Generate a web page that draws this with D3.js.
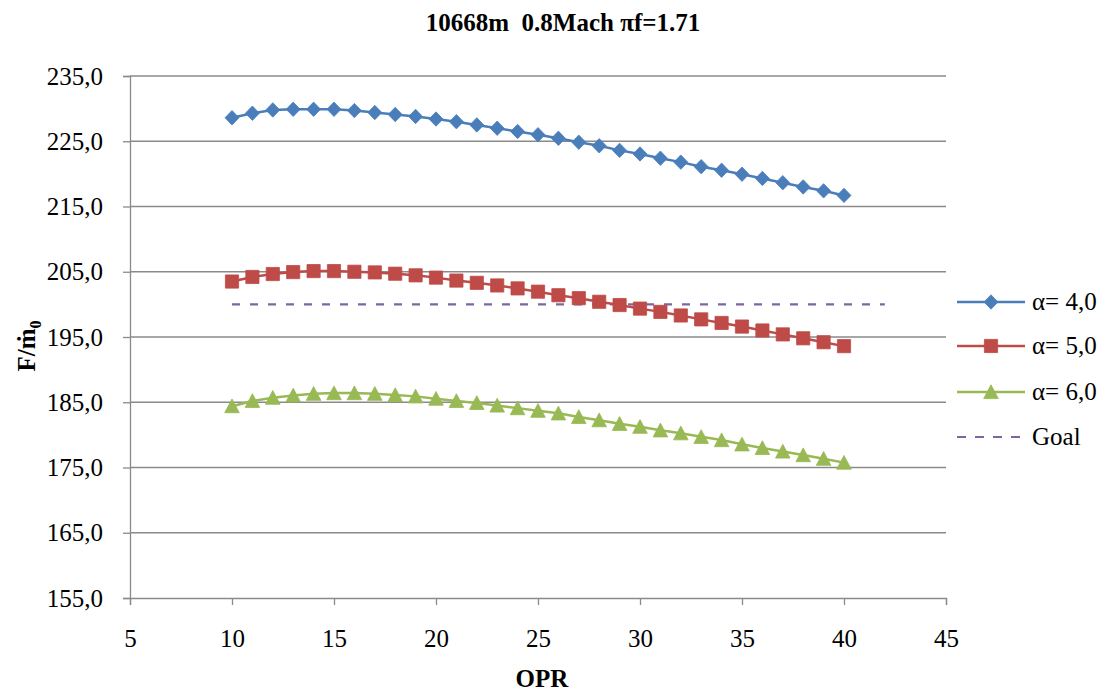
<!DOCTYPE html>
<html><head><meta charset="utf-8">
<script src="https://cdn.jsdelivr.net/npm/d3@7"></script>
<style>body{margin:0;background:#fff}svg{display:block}svg text{font-family:"Liberation Serif","Times New Roman",serif}</style>
</head><body>
<script>
const opr = d3.range(10, 41);
const alpha4 = [228.6,229.3,229.8,229.9,229.9,229.9,229.7,229.4,229.1,228.8,228.4,228.0,227.5,227.0,226.5,226.0,225.45,224.85,224.3,223.6,223.05,222.4,221.8,221.1,220.55,219.95,219.3,218.65,218.0,217.4,216.7];
const alpha5 = [203.5,204.2,204.65,204.95,205.1,205.1,205.0,204.9,204.7,204.45,204.1,203.65,203.3,202.9,202.45,201.95,201.4,200.95,200.4,199.9,199.35,198.85,198.3,197.7,197.15,196.6,196.0,195.4,194.8,194.2,193.6];
const alpha6 = [184.4,185.2,185.7,186.05,186.3,186.4,186.4,186.3,186.1,185.9,185.55,185.2,184.9,184.5,184.1,183.7,183.3,182.75,182.25,181.7,181.25,180.7,180.25,179.7,179.2,178.55,178.0,177.45,176.9,176.35,175.75];
const goalX = [10, 42];
const goalY = [200, 200];
const xTicks = [5,10,15,20,25,30,35,40,45];
const yTicks = [155,165,175,185,195,205,215,225,235];
const seriesNames = ["α= 4,0","α= 5,0","α= 6,0","Goal"];

const W = 1109, H = 693;
const FONT = '"Liberation Serif","Times New Roman",serif';
const svg = d3.select("body").append("svg").attr("width", W).attr("height", H);
const x = d3.scaleLinear().domain([5,45]).range([130,946]);
const y = d3.scaleLinear().domain([155,235]).range([598,76]);

// gridlines
svg.append("g").selectAll("line").data(yTicks.slice(1)).join("line")
  .attr("x1", x(5)).attr("x2", x(45)).attr("y1", d=>y(d)).attr("y2", d=>y(d))
  .attr("stroke", "#8a8a8a").attr("stroke-width", 1.3);

const fmt = d => d.toFixed(1).replace(".", ",");
const yAxis = svg.append("g").attr("transform", `translate(${x(5)},0)`)
  .call(d3.axisLeft(y).tickValues(yTicks).tickFormat(fmt).tickSize(7).tickPadding(20));
const xAxis = svg.append("g").attr("transform", `translate(0,${y(155)})`)
  .call(d3.axisBottom(x).tickValues(xTicks).tickSize(7).tickPadding(24));
[yAxis, xAxis].forEach(g => {
  g.attr("font-family", FONT).attr("font-size", 25);
  g.selectAll("path,line").attr("stroke", "#8a8a8a").attr("stroke-width", 1.3);
  g.selectAll("text").style("font-family", FONT).style("font-size", "25px").attr("fill", "#000");
});

const colors = ["#4A7EBB", "#BE4B48", "#98B954"];
const data = [alpha4, alpha5, alpha6];
const line = d3.line().x((d,i)=>x(opr[i])).y(d=>y(d));

// goal
svg.append("path").datum(goalY)
  .attr("d", d3.line().x((d,i)=>x(goalX[i])).y(d=>y(d)))
  .attr("stroke", "#8064A2").attr("stroke-width", 2.2).attr("stroke-dasharray", "8,10").attr("fill","none");

const shapes = [
  "M0,-7.2L7,0L0,7.2L-7,0Z",
  "M-6.6,-6.6H6.6V6.6H-6.6Z",
  "M0,-7.2L7.3,6.6H-7.3Z"
];
function drawSym(g, k, cx, cy) {
  g.append("path").attr("d", shapes[k]).attr("transform", `translate(${cx},${cy})`)
    .attr("fill", colors[k]).attr("stroke", colors[k]).attr("stroke-width", 0.8);
}

data.forEach((vals, k) => {
  svg.append("path").datum(vals).attr("d", line)
    .attr("stroke", colors[k]).attr("stroke-width", 2.5).attr("fill", "none");
  const g = svg.append("g");
  vals.forEach((v, i) => drawSym(g, k, x(opr[i]), y(v)));
});

// legend
const legY = [302, 346, 392, 437];
const lg = svg.append("g");
seriesNames.forEach((name, k) => {
  if (k < 3) {
    lg.append("line").attr("x1", 957).attr("x2", 1025).attr("y1", legY[k]).attr("y2", legY[k])
      .attr("stroke", colors[k]).attr("stroke-width", 2.5);
    drawSym(lg, k, 991, legY[k]);
  } else {
    lg.append("line").attr("x1", 957).attr("x2", 1020).attr("y1", legY[k]).attr("y2", legY[k])
      .attr("stroke", "#8064A2").attr("stroke-width", 2.2).attr("stroke-dasharray", "9,9");
  }
  lg.append("text").attr("x", 1032).attr("y", legY[k]).attr("dy", "0.33em")
    .style("font-size", "25px").text(name);
});

// title
svg.append("text").attr("x", 563).attr("y", 31).attr("text-anchor", "middle")
  .style("font-size", "25px").attr("font-weight", "bold").style("white-space","pre").text("10668m  0.8Mach πf=1.71");
// x label
svg.append("text").attr("x", 542).attr("y", 687).attr("text-anchor", "middle")
  .style("font-size", "25px").attr("font-weight", "bold").text("OPR");
// y label
const yl = svg.append("text").attr("transform", "translate(35,346) rotate(-90)").attr("text-anchor", "middle")
  .style("font-size", "25px").attr("font-weight", "bold");
yl.append("tspan").text("F/ṁ");
yl.append("tspan").style("font-size", "16px").attr("dy", 6).text("0");
</script>
</body></html>
